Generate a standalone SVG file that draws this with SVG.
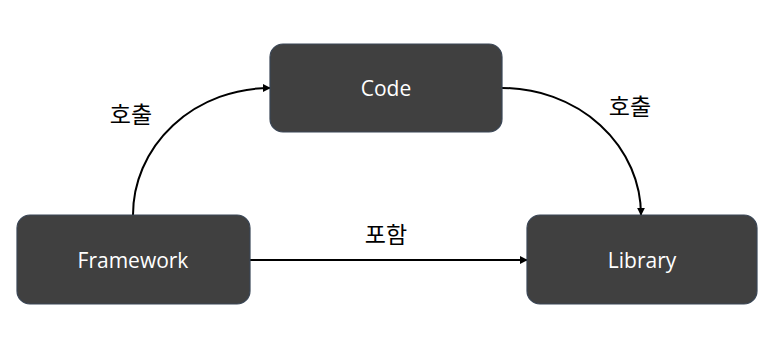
<svg xmlns="http://www.w3.org/2000/svg" width="780" height="343" viewBox="0 0 780 343">
<style>
.node{fill:#404040;stroke:#3a4656;stroke-width:1.2}
.nt{fill:#ffffff;font-family:"Open Sans","Noto Sans CJK KR",sans-serif;font-size:21px;text-anchor:middle;dominant-baseline:central}
.lb{fill:#000000;font-family:"Noto Sans CJK KR","Noto Sans",sans-serif;font-size:23px;text-anchor:middle;dominant-baseline:central}
.edge{fill:none;stroke:#000000;stroke-width:2;marker-end:url(#ah)}
</style>
<defs>
<marker id="ah" viewBox="0 0 10 10" refX="9" refY="5" markerWidth="4" markerHeight="4" orient="auto" markerUnits="strokeWidth">
<path d="M0,0 L10,5 L0,10 z" fill="#000000"/>
</marker>
</defs>
<rect width="780" height="343" fill="#ffffff"/>
<g id="connectors">
<path class="edge" d="M133,215 A137,127 0 0 1 270,88"/>
<path class="edge" d="M502,88 A139,127 0 0 1 641,215"/>
<path class="edge" d="M250,260 L527,260"/>
<text class="lb" x="131" y="113">호출</text>
<text class="lb" x="630" y="105">호출</text>
<text class="lb" x="386" y="233">포함</text>
</g>
<g id="code">
<rect class="node" x="270" y="44" width="232" height="88" rx="13"/>
<text class="nt" x="386" y="88">Code</text>
</g>
<g id="framework">
<rect class="node" x="17" y="215" width="233" height="89" rx="13"/>
<text class="nt" x="133" y="260">Framework</text>
</g>
<g id="library">
<rect class="node" x="527" y="215" width="230" height="89" rx="13"/>
<text class="nt" x="642" y="260">Library</text>
</g>
</svg>
